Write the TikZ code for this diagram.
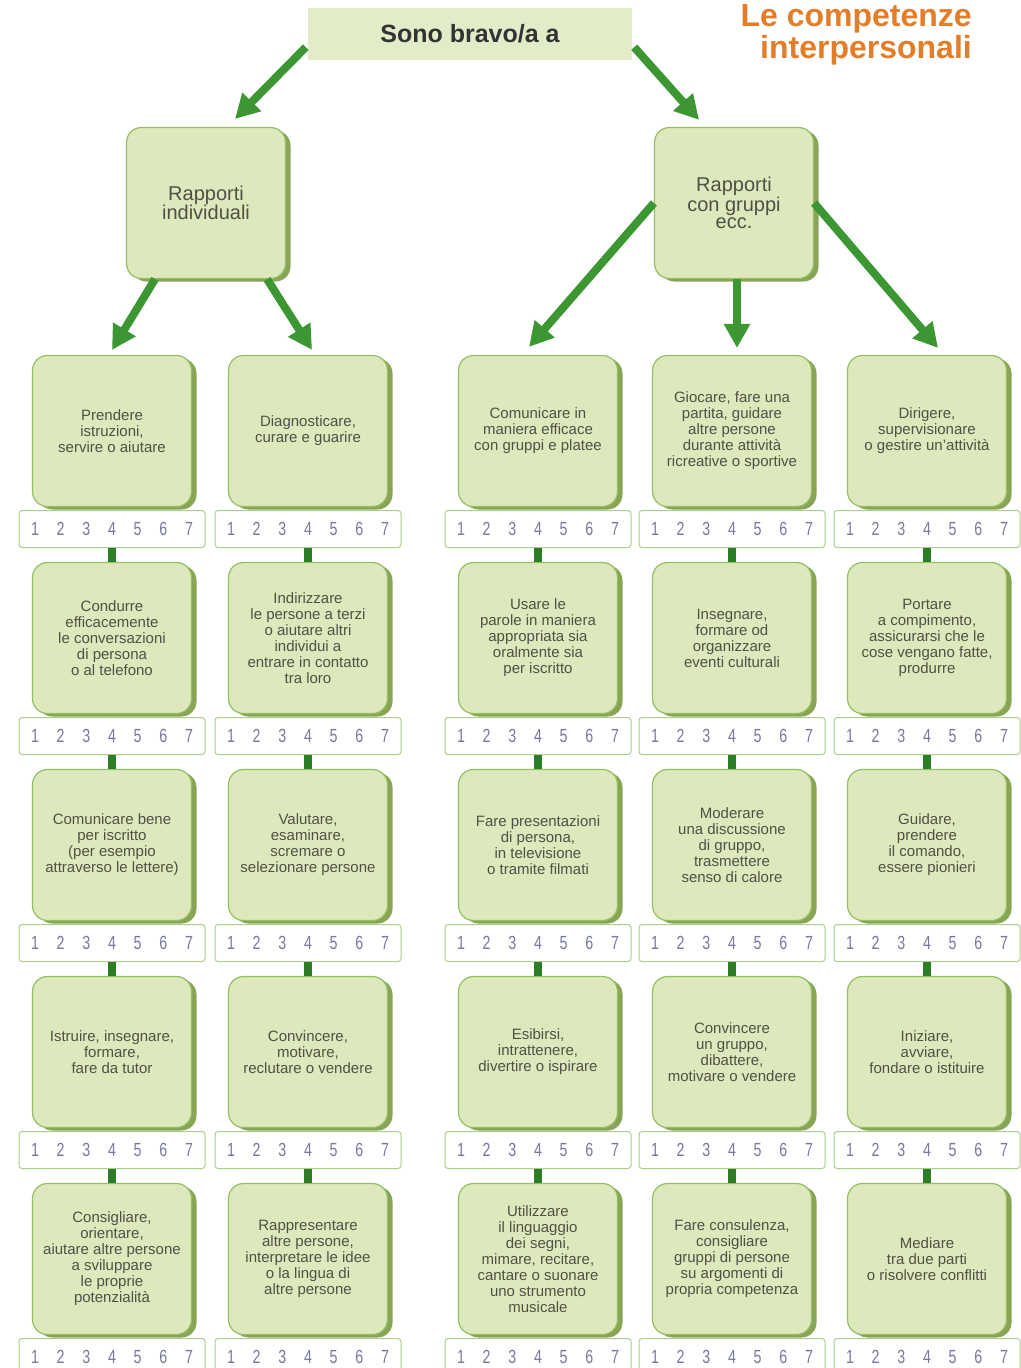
\documentclass[tikz,border=0pt]{standalone}
\usepackage{fontspec}
\setmainfont{Liberation Sans}
\newfontfamily\numfont[FakeStretch=0.75]{Liberation Sans}
\usetikzlibrary{arrows.meta,shadows}
\definecolor{boxfill}{RGB}{221,233,188}
\definecolor{boxline}{RGB}{150,190,100}
\definecolor{boxshade}{RGB}{135,165,85}
\definecolor{boxtext}{RGB}{80,80,70}
\definecolor{topfill}{RGB}{226,236,200}
\definecolor{baredge}{RGB}{175,205,140}
\definecolor{numtext}{RGB}{120,120,160}
\definecolor{arrgreen}{RGB}{60,150,50}
\definecolor{linkgreen}{RGB}{45,125,40}
\definecolor{titleorange}{RGB}{228,125,40}
\newcommand{\ratings}{\hbox to 162pt{1\hfil 2\hfil 3\hfil 4\hfil 5\hfil 6\hfil 7}}

\begin{document}
\begin{tikzpicture}[x=1pt,y=-1pt,
    skill/.style = {draw=boxline, line width=1.2pt, fill=boxfill, rounded corners=15pt, minimum width=159pt, minimum height=151pt, align=center, text=boxtext, font=\fontsize{15}{16}\selectfont, drop shadow={shadow xshift=5pt, shadow yshift=-3pt, fill=boxshade, opacity=1}},
    group/.style = {skill, font=\fontsize{20}{17.5}\selectfont},
    ratebar/.style = {draw=baredge, line width=1pt, fill=white, rounded corners=3pt, minimum width=186pt, minimum height=37pt, inner sep=0pt, text=numtext, font=\numfont\fontsize{19}{19}\selectfont},
    link/.style = {draw=linkgreen, line width=8pt},
    arr/.style = {draw=arrgreen, line width=8pt, -{Triangle[width=25pt,length=24pt]}}]
    \fill[white] (0,0) rectangle (1020,1368);
    \useasboundingbox (0,0) rectangle (1020,1368);

    \node[fill=topfill, minimum width=324pt, minimum height=52pt, font=\bfseries\fontsize{25}{25}\selectfont, text=black!80] (top) at (470,34) {Sono bravo/a a};
    \node[anchor=base east, text=titleorange, font=\bfseries\fontsize{32}{32}\selectfont, inner sep=0pt] (title1) at (972,26) {Le competenze};
    \node[anchor=base east, text=titleorange, font=\bfseries\fontsize{32}{32}\selectfont, inner sep=0pt] (title2) at (972,58) {interpersonali};

    \node[group] (ri) at (206,203) {Rapporti\\individuali};
    \node[group] (rg) at (734,203) {Rapporti\\con gruppi\\ecc.};

    \node[skill] (b11) at (112,431) {Prendere\\istruzioni,\\servire o aiutare};
    \node[skill] (b12) at (112,638) {Condurre\\efficacemente\\le conversazioni\\di persona\\o al telefono};
    \node[skill] (b13) at (112,845) {Comunicare bene\\per iscritto\\(per esempio\\attraverso le lettere)};
    \node[skill] (b14) at (112,1052) {Istruire, insegnare,\\formare,\\fare da tutor};
    \node[skill] (b15) at (112,1259) {Consigliare,\\orientare,\\aiutare altre persone\\a sviluppare\\le proprie\\potenzialità};

    \node[skill] (b21) at (308,431) {Diagnosticare,\\curare e guarire};
    \node[skill] (b22) at (308,638) {Indirizzare\\le persone a terzi\\o aiutare altri\\individui a\\entrare in contatto\\tra loro};
    \node[skill] (b23) at (308,845) {Valutare,\\esaminare,\\scremare o\\selezionare persone};
    \node[skill] (b24) at (308,1052) {Convincere,\\motivare,\\reclutare o vendere};
    \node[skill] (b25) at (308,1259) {Rappresentare\\altre persone,\\interpretare le idee\\o la lingua di\\altre persone};

    \node[skill] (b31) at (538,431) {Comunicare in\\maniera efficace\\con gruppi e platee};
    \node[skill] (b32) at (538,638) {Usare le\\parole in maniera\\appropriata sia\\oralmente sia\\per iscritto};
    \node[skill] (b33) at (538,845) {Fare presentazioni\\di persona,\\in televisione\\o tramite filmati};
    \node[skill] (b34) at (538,1052) {Esibirsi,\\intrattenere,\\divertire o ispirare};
    \node[skill] (b35) at (538,1259) {Utilizzare\\il linguaggio\\dei segni,\\mimare, recitare,\\cantare o suonare\\uno strumento\\musicale};

    \node[skill] (b41) at (732,431) {Giocare, fare una\\partita, guidare\\altre persone\\durante attività\\ricreative o sportive};
    \node[skill] (b42) at (732,638) {Insegnare,\\formare od\\organizzare\\eventi culturali};
    \node[skill] (b43) at (732,845) {Moderare\\una discussione\\di gruppo,\\trasmettere\\senso di calore};
    \node[skill] (b44) at (732,1052) {Convincere\\un gruppo,\\dibattere,\\motivare o vendere};
    \node[skill] (b45) at (732,1259) {Fare consulenza,\\consigliare\\gruppi di persone\\su argomenti di\\propria competenza};

    \node[skill] (b51) at (927,431) {Dirigere,\\supervisionare\\o gestire un'attività};
    \node[skill] (b52) at (927,638) {Portare\\a compimento,\\assicurarsi che le\\cose vengano fatte,\\produrre};
    \node[skill] (b53) at (927,845) {Guidare,\\prendere\\il comando,\\essere pionieri};
    \node[skill] (b54) at (927,1052) {Iniziare,\\avviare,\\fondare o istituire};
    \node[skill] (b55) at (927,1259) {Mediare\\tra due parti\\o risolvere conflitti};

    \foreach \c/\x in {1/112,2/308,3/538,4/732,5/927}
        \foreach \r in {1,...,5}
            \node[ratebar] (s\c\r) at (\x,{529+207*(\r-1)}) {\ratings};

    \foreach \c in {1,...,5}
        \foreach \r [remember=\r as \p (initially 1)] in {2,...,5}
            \draw[link] (s\c\p.south) -- (b\c\r.north);

    \draw[arr] ([xshift=-2pt,yshift=13pt]top.south west) -- ([xshift=29pt,yshift=8pt]ri.north);
    \draw[arr] ([xshift=2pt,yshift=13pt]top.south east) -- ([xshift=-35pt,yshift=7pt]rg.north);
    \draw[arr] ([xshift=-51pt]ri.south) -- ([yshift=5pt]b11.north);
    \draw[arr] ([xshift=61pt]ri.south) -- ([xshift=4pt,yshift=5pt]b21.north);
    \draw[arr] (rg.west) -- ([xshift=-9pt,yshift=8pt]b31.north);
    \draw[arr] ([xshift=3pt]rg.south) -- ([xshift=5pt,yshift=7pt]b41.north);
    \draw[arr] (rg.east) -- ([xshift=11pt,yshift=7pt]b51.north);
\end{tikzpicture}
\end{document}
